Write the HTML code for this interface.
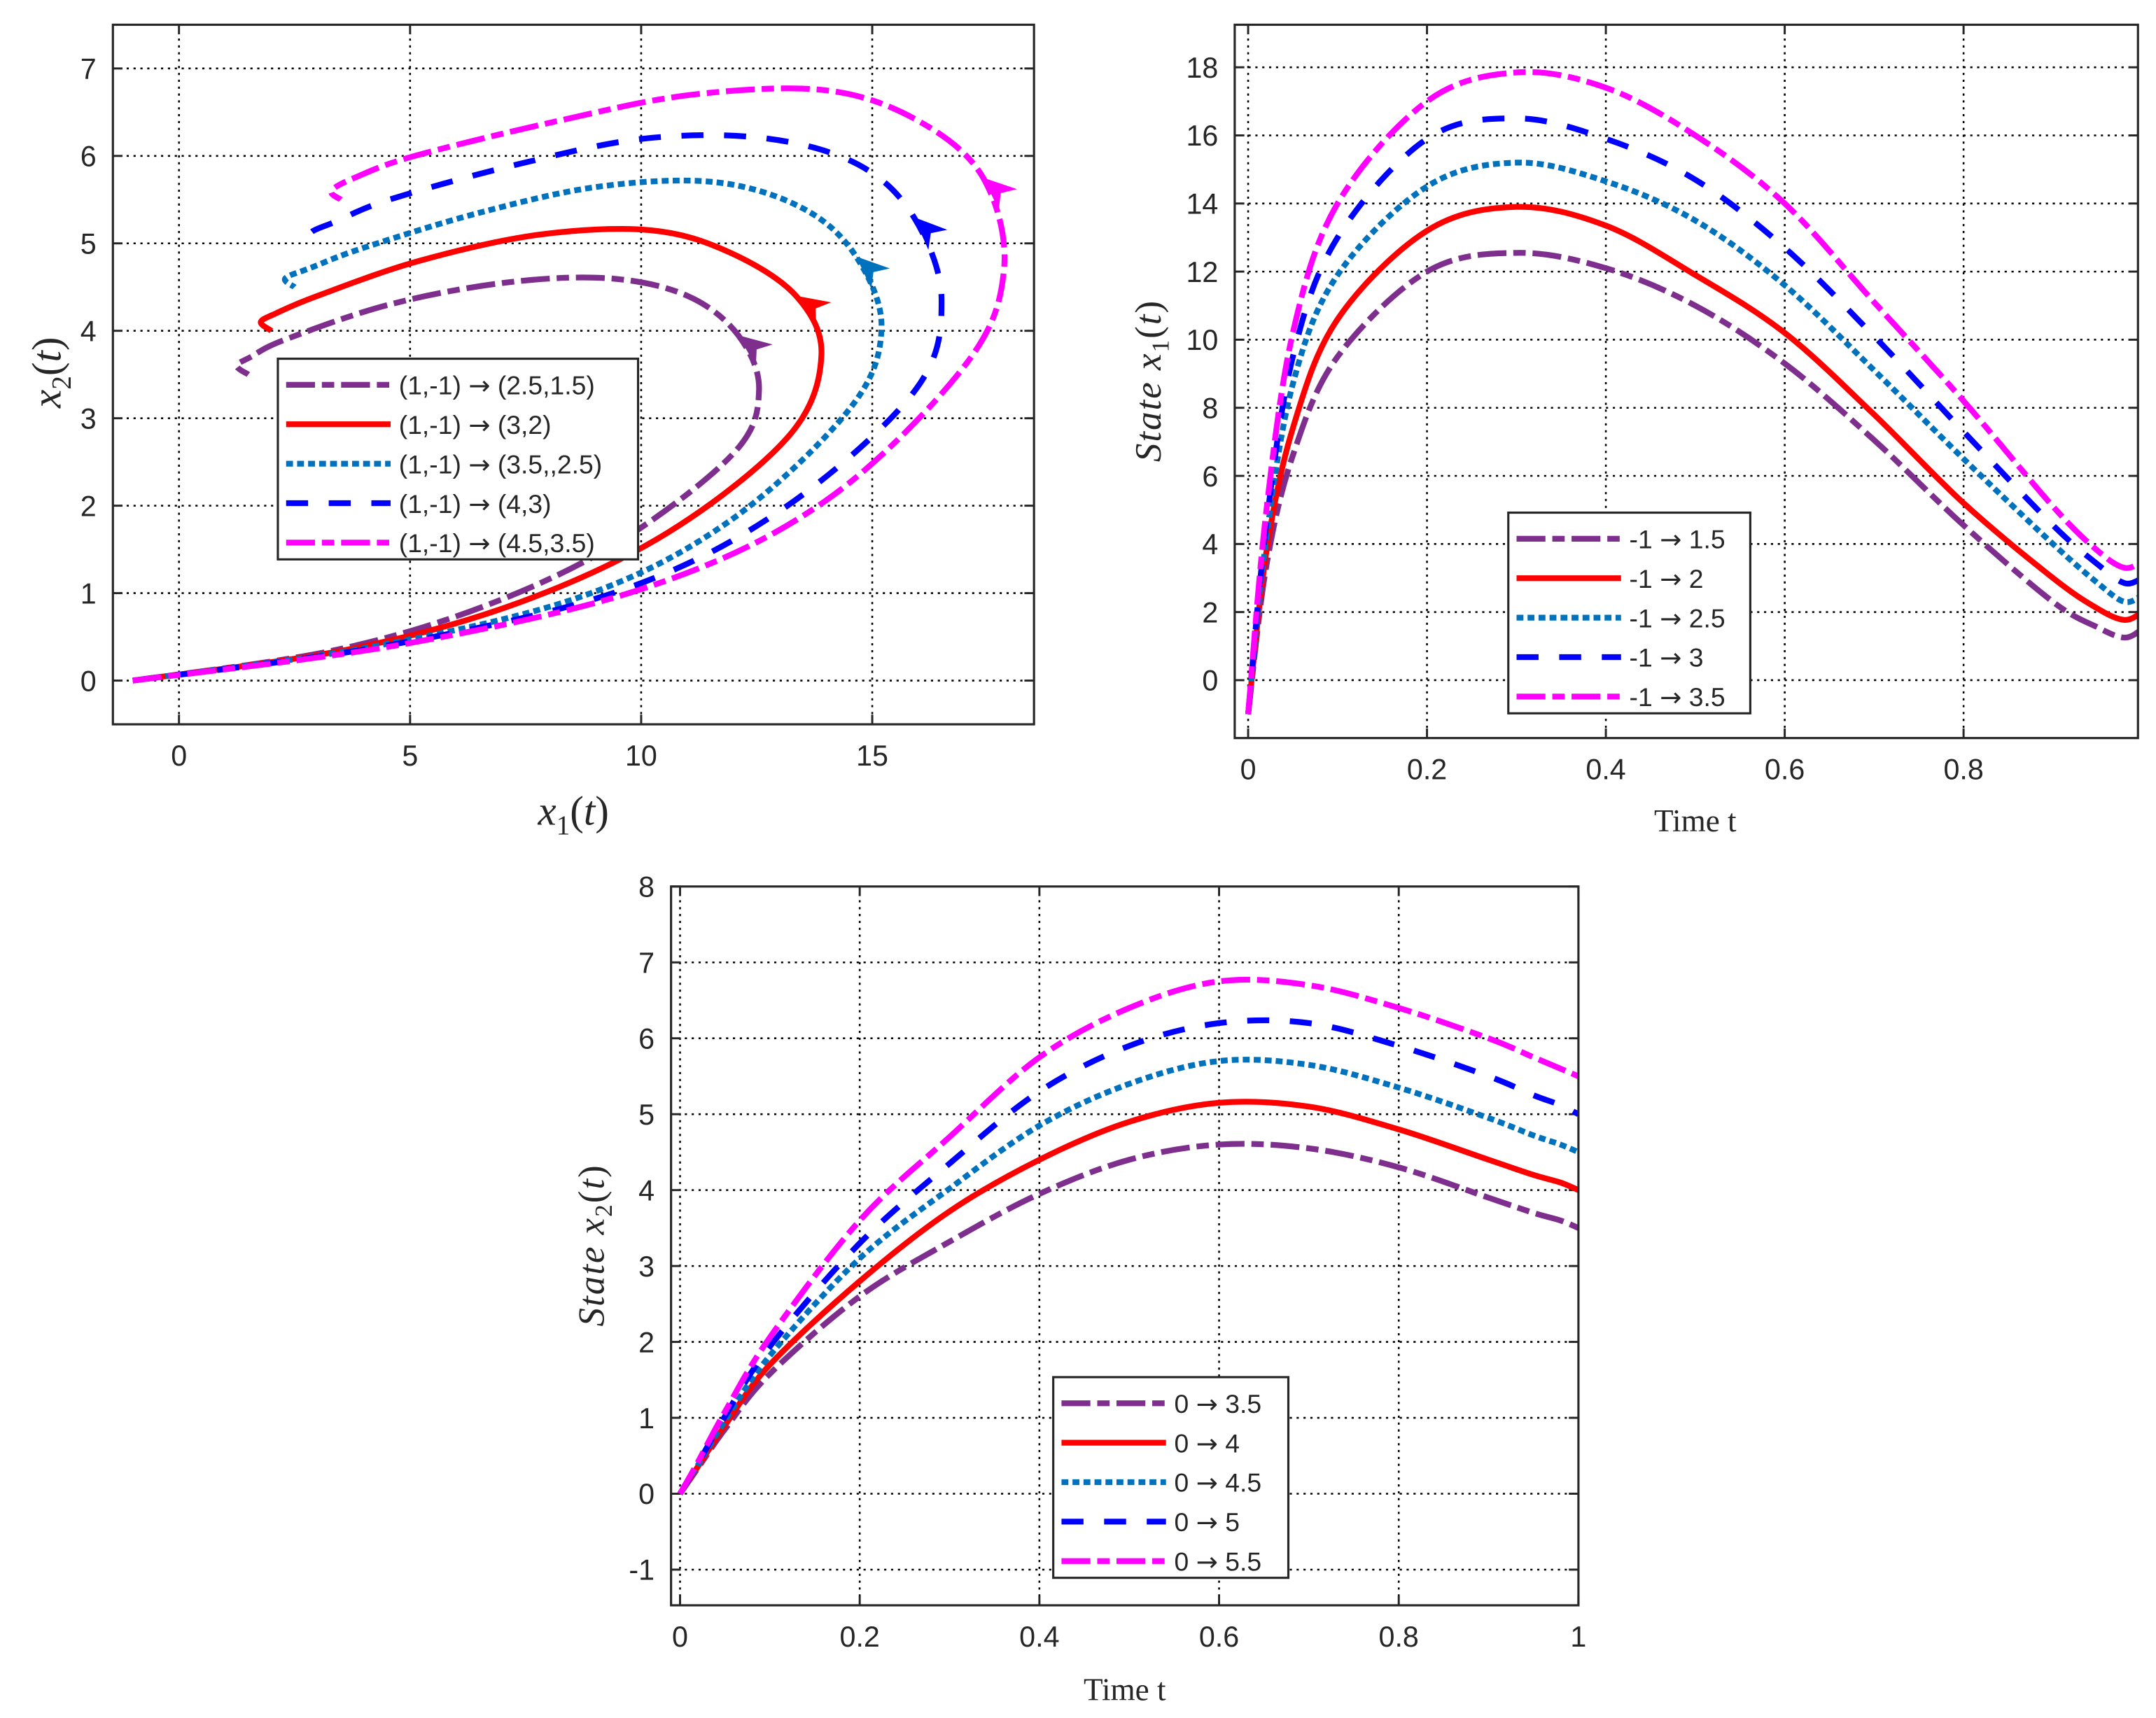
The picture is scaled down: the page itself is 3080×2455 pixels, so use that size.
<!DOCTYPE html>
<html><head><meta charset="utf-8"><style>
html,body{margin:0;padding:0;background:#fff}
svg{display:block}
text{font-family:"Liberation Sans",sans-serif;fill:#262626}
.serif{font-family:"Liberation Serif",serif}
</style></head><body>
<svg id="fig" width="3080" height="2455" viewBox="0 0 1568 1250" xmlns="http://www.w3.org/2000/svg">
<rect width="1568" height="1250" fill="#fff"/>
</svg>
<script>
// ---- data (time grid + state trajectories) ----
const tVals = [0, 0.02, 0.05, 0.1, 0.2, 0.3, 0.4, 0.5, 0.6, 0.7, 0.8, 0.9, 0.95, 0.98, 1.0];
const x1Purple  = [-1, 3.3, 6.6,  9.5, 12.0, 12.55, 12.1, 11.0,  9.3,  7.05, 4.55, 2.3, 1.55, 1.25, 1.5];
const x1Red     = [-1, 3.7, 7.4, 10.6, 13.2, 13.9, 13.35, 11.9, 10.2,  7.8, 5.2, 3.0, 2.1, 1.77, 2.0];
const x1Teal    = [-1, 4.1, 8.7, 11.9, 14.5, 15.2, 14.65, 13.5, 11.6,  9.1, 6.5, 4.0, 2.85, 2.3, 2.5];
const x1Blue    = [-1, 4.5, 9.5, 13.0, 15.9, 16.5, 15.9, 14.7, 12.7, 10.1, 7.3, 4.55, 3.4, 2.85, 3.0];
const x1Magenta = [-1, 4.9, 10.2, 14.0, 17.0, 17.85, 17.4, 16.0, 14.0, 11.1, 8.2, 5.1, 3.8, 3.3, 3.5];
const x2Purple  = [0, 0.34, 0.85, 1.58, 2.60, 3.32, 3.95, 4.40, 4.60, 4.55, 4.30, 3.90, 3.70, 3.60, 3.5];
const x2Red     = [0, 0.36, 0.90, 1.70, 2.80, 3.72, 4.40, 4.90, 5.15, 5.10, 4.80, 4.40, 4.20, 4.10, 4.0];
const x2Teal    = [0, 0.38, 0.96, 1.82, 3.10, 4.02, 4.85, 5.40, 5.70, 5.65, 5.35, 4.95, 4.72, 4.60, 4.5];
const x2Blue    = [0, 0.40, 1.02, 1.94, 3.30, 4.35, 5.30, 5.90, 6.20, 6.20, 5.90, 5.50, 5.25, 5.12, 5.0];
const x2Magenta = [0, 0.42, 1.08, 2.06, 3.60, 4.70, 5.75, 6.40, 6.75, 6.70, 6.40, 6.00, 5.75, 5.60, 5.5];
const legend1 = [["(1,-1) ", " (2.5,1.5)"], ["(1,-1) ", " (3,2)"], ["(1,-1) ", " (3.5,,2.5)"], ["(1,-1) ", " (4,3)"], ["(1,-1) ", " (4.5,3.5)"]];
const legend2 = [["-1 ", " 1.5"], ["-1 ", " 2"], ["-1 ", " 2.5"], ["-1 ", " 3"], ["-1 ", " 3.5"]];
const legend3 = [["0 ", " 3.5"], ["0 ", " 4"], ["0 ", " 4.5"], ["0 ", " 5"], ["0 ", " 5.5"]];
const ticks1X = [0, 5, 10, 15], ticks1Y = [0, 1, 2, 3, 4, 5, 6, 7];
const ticks2X = [0, 0.2, 0.4, 0.6, 0.8], ticks2Y = [0, 2, 4, 6, 8, 10, 12, 14, 16, 18];
const ticks3X = [0, 0.2, 0.4, 0.6, 0.8, 1], ticks3Y = [-1, 0, 1, 2, 3, 4, 5, 6, 7, 8];
const arrowT = 0.4;

const X1 = [x1Purple, x1Red, x1Teal, x1Blue, x1Magenta];
const X2 = [x2Purple, x2Red, x2Teal, x2Blue, x2Magenta];
const styles = [
  {c:"#7E2F8E", d:"21 5 9 5", k:"purple"},
  {c:"#FF0000", d:"", k:"red"},
  {c:"#0072BD", d:"5 3", k:"teal"},
  {c:"#0000FF", d:"16 15", k:"blue"},
  {c:"#FF00FF", d:"21 5 9 5", k:"magenta"}
];
const NS = "http://www.w3.org/2000/svg";
const fig = document.getElementById("fig");
function el(tag, attrs, parent) {
  const e = document.createElementNS(NS, tag);
  for (const k in attrs) e.setAttribute(k, attrs[k]);
  (parent || fig).appendChild(e);
  return e;
}
function smoothPath(pts) {
  let d = "M" + pts[0][0].toFixed(2) + "," + pts[0][1].toFixed(2);
  for (let i = 0; i < pts.length - 1; i++) {
    const p0 = pts[Math.max(0, i - 1)], p1 = pts[i], p2 = pts[i + 1], p3 = pts[Math.min(pts.length - 1, i + 2)];
    const c1 = [p1[0] + (p2[0] - p0[0]) / 6, p1[1] + (p2[1] - p0[1]) / 6];
    const c2 = [p2[0] - (p3[0] - p1[0]) / 6, p2[1] - (p3[1] - p1[1]) / 6];
    d += "C" + c1[0].toFixed(2) + "," + c1[1].toFixed(2) + " " + c2[0].toFixed(2) + "," + c2[1].toFixed(2) + " " + p2[0].toFixed(2) + "," + p2[1].toFixed(2);
  }
  return d;
}
function makeAxes(id, L, T, R, B, xmin, xmax, ymin, ymax, xt, yt, xfmt) {
  const g = el("g", {});
  
  
  const sx = v => L + (v - xmin) / (xmax - xmin) * (R - L);
  const sy = v => B - (v - ymin) / (ymax - ymin) * (B - T);
  const cp = el("clipPath", {id: id + "clip"}, g);
  el("rect", {x: L, y: T, width: R - L, height: B - T}, cp);
  xt.forEach(v => {
    const gl = el("line", {x1: sx(v), x2: sx(v), y1: T, y2: B, stroke: "#000", "stroke-width": 1.3, "stroke-dasharray": "1.6 3.4"}, g);
    
    
    el("line", {x1: sx(v), x2: sx(v), y1: B, y2: B - 7, stroke: "#262626", "stroke-width": 1.5}, g);
    el("line", {x1: sx(v), x2: sx(v), y1: T, y2: T + 7, stroke: "#262626", "stroke-width": 1.5}, g);
    const tl = el("text", {x: sx(v), y: B + 30, "font-size": 21, "text-anchor": "middle"}, g);
    tl.textContent = xfmt ? xfmt(v) : String(v);
    
    
  });
  yt.forEach(v => {
    const gl = el("line", {x1: L, x2: R, y1: sy(v), y2: sy(v), stroke: "#000", "stroke-width": 1.3, "stroke-dasharray": "1.6 3.4"}, g);
    
    
    el("line", {x1: L, x2: L + 7, y1: sy(v), y2: sy(v), stroke: "#262626", "stroke-width": 1.5}, g);
    el("line", {x1: R, x2: R - 7, y1: sy(v), y2: sy(v), stroke: "#262626", "stroke-width": 1.5}, g);
    const tl = el("text", {x: L - 12, y: sy(v) + 7.5, "font-size": 21, "text-anchor": "end"}, g);
    tl.textContent = String(v);
    
    
  });
  const plot = el("g", {"clip-path": "url(#" + id + "clip)"}, g);
  return {g, plot, sx, sy, L, T, R, B};
}
function frame(ax) {
  const f = el("rect", {x: ax.L, y: ax.T, width: ax.R - ax.L, height: ax.B - ax.T, fill: "none", stroke: "#262626", "stroke-width": 1.6}, ax.g);
  
  
}
function drawLine(ax, xs, ys, i) {
  const pts = xs.map((x, j) => [ax.sx(x), ax.sy(ys[j])]);
  const p = el("path", {d: smoothPath(pts), fill: "none", stroke: styles[i].c, "stroke-width": 4.2, "stroke-dasharray": styles[i].d || "none", "stroke-linejoin": "round"}, ax.plot);
  
  
}
function legend(ax, x, y, w, labels, name) {
  const g = el("g", {}, ax.g);
  
  
  el("rect", {x: x, y: y, width: w, height: 146, fill: "#fff", stroke: "#262626", "stroke-width": 1.6}, g);
  labels.forEach((lb, i) => {
    const yy = y + 19 + i * 28.7;
    const ln = el("line", {x1: x + 6, x2: x + 82, y1: yy, y2: yy, stroke: styles[i].c, "stroke-width": 4.2, "stroke-dasharray": styles[i].d || "none"}, g);
    
    
    const t = el("text", {x: x + 88, y: yy + 7, "font-size": 19}, g);
    t.innerHTML = lb[0] + '<tspan font-family="DejaVu Sans" font-size="19">\u2192</tspan>' + lb[1];
    
    
  });
}
function interp(arr, t) {
  for (let j = 0; j < tVals.length - 1; j++) {
    if (t >= tVals[j] && t <= tVals[j + 1]) {
      const f = (t - tVals[j]) / (tVals[j + 1] - tVals[j]);
      return arr[j] + f * (arr[j + 1] - arr[j]);
    }
  }
  return arr[arr.length - 1];
}
const fmt = v => (v === 0 ? "0" : (Number.isInteger(v) ? String(v) : v.toFixed(1)));

// ---- Plot 1: phase portrait ----
const a1 = makeAxes("phase", 82, 18, 752, 527, -1.43, 18.5, -0.5, 7.5, ticks1X, ticks1Y);
for (let i = 0; i < 5; i++) drawLine(a1, X1[i], X2[i], i);
for (let i = 0; i < 5; i++) {
  const px = a1.sx(interp(X1[i], arrowT)), py = a1.sy(interp(X2[i], arrowT));
  const qx = a1.sx(interp(X1[i], arrowT + 0.05)), qy = a1.sy(interp(X2[i], arrowT + 0.05));
  const ang = Math.atan2(qy - py, qx - px) * 180 / Math.PI;
  const ar = el("path", {d: "M0,0 L-24,-10 L-17,0 L-24,10 Z", fill: styles[i].c, transform: "translate(" + px.toFixed(1) + "," + py.toFixed(1) + ") rotate(" + ang.toFixed(1) + ")"}, a1.plot);
  
  
}
frame(a1);
legend(a1, 202, 261, 262, legend1, "legend-phase");
let t = el("text", {x: 417, y: 600, "font-size": 30, "text-anchor": "middle", "font-style": "italic", class: "serif"});
t.innerHTML = 'x<tspan font-size="20" dy="7" font-style="normal">1</tspan><tspan dy="-7" font-style="normal">(</tspan>t<tspan font-style="normal">)</tspan>';


t = el("text", {x: 0, y: 0, "font-size": 30, "text-anchor": "middle", "font-style": "italic", class: "serif", transform: "translate(44,271) rotate(-90)"});
t.innerHTML = 'x<tspan font-size="20" dy="7" font-style="normal">2</tspan><tspan dy="-7" font-style="normal">(</tspan>t<tspan font-style="normal">)</tspan>';



// ---- Plot 2: x1 vs time ----
const a2 = makeAxes("x1", 898, 18, 1555, 537, -0.015, 0.995, -1.7, 19.25, ticks2X, ticks2Y, fmt);
for (let i = 0; i < 5; i++) drawLine(a2, tVals, X1[i], i);
frame(a2);
legend(a2, 1097, 373, 176, legend2, "legend-x1");
t = el("text", {x: 1233, y: 605, "font-size": 23, "text-anchor": "middle", class: "serif"});
t.textContent = "Time t";


t = el("text", {x: 0, y: 0, "font-size": 27, "text-anchor": "middle", "font-style": "italic", class: "serif", "letter-spacing": "1", transform: "translate(844,277) rotate(-90)"});
t.innerHTML = 'State x<tspan font-size="18" dy="6" font-style="normal">1</tspan><tspan dy="-6" font-style="normal">(</tspan>t<tspan font-style="normal">)</tspan>';



// ---- Plot 3: x2 vs time ----
const a3 = makeAxes("x2", 488, 645, 1148, 1168, -0.01, 1.0, -1.47, 8, ticks3X, ticks3Y, fmt);
for (let i = 0; i < 5; i++) drawLine(a3, tVals, X2[i], i);
frame(a3);
legend(a3, 766, 1002, 171, legend3, "legend-x2");
t = el("text", {x: 818, y: 1237, "font-size": 23, "text-anchor": "middle", class: "serif"});
t.textContent = "Time t";


t = el("text", {x: 0, y: 0, "font-size": 27, "text-anchor": "middle", "font-style": "italic", class: "serif", "letter-spacing": "1", transform: "translate(439,906) rotate(-90)"});
t.innerHTML = 'State x<tspan font-size="18" dy="6" font-style="normal">2</tspan><tspan dy="-6" font-style="normal">(</tspan>t<tspan font-style="normal">)</tspan>';


</script>
</body></html>
